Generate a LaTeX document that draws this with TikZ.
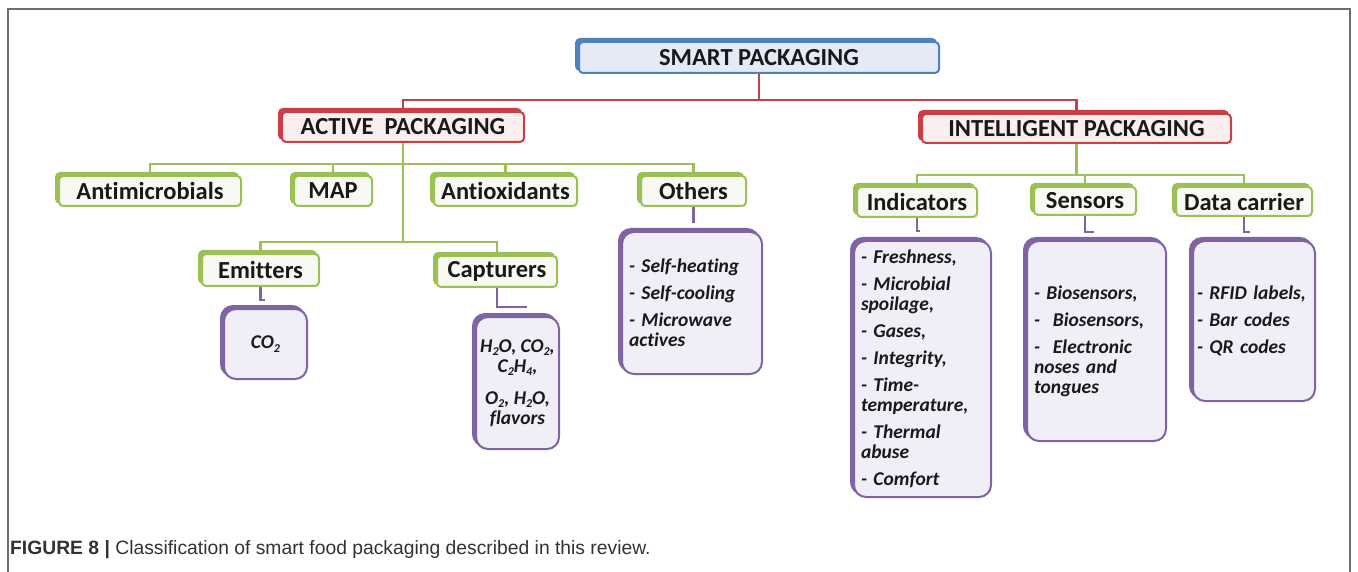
\documentclass[tikz,border=0pt]{standalone}
\usepackage{fontspec}
\setmainfont{Carlito}[Ligatures=NoCommon]
\newfontfamily\captionFont{Liberation Sans}
\usetikzlibrary{shadows}
\definecolor{blueEdge}{RGB}{79,129,189}
\definecolor{blueFill}{RGB}{228,235,246}
\definecolor{redEdge}{RGB}{204,62,70}
\definecolor{redFill}{RGB}{251,238,238}
\definecolor{greenEdge}{RGB}{155,193,84}
\definecolor{greenFill}{RGB}{247,249,242}
\definecolor{purpleEdge}{RGB}{128,100,162}
\definecolor{purpleFill}{RGB}{240,238,246}
\definecolor{frameColor}{RGB}{110,110,110}
\definecolor{captionGray}{RGB}{50,50,50}
\newcommand{\boxFont}{\fontsize{24.5}{28}\selectfont\bfseries}
\newcommand{\listFont}{\fontsize{19.5}{20}\selectfont\bfseries\itshape\hyphenpenalty=10000}
\newcommand{\chemSub}[1]{\raisebox{-0.35ex}{\fontsize{12}{12}\selectfont #1}}
\newcommand{\itemGap}{\\[7pt]}
\tikzstyle{shadowBox} = [rectangle, line width=2pt, inner sep=0pt, text=black!90]
\tikzstyle{smartStyle} = [shadowBox, rounded corners=4pt, draw=blueEdge, fill=blueFill, font=\boxFont,
  copy shadow={shadow xshift=-3pt, shadow yshift=3pt, draw=blueEdge, fill=blueEdge, line width=2pt}]
\tikzstyle{typeStyle} = [shadowBox, rounded corners=4pt, draw=redEdge, fill=redFill, font=\boxFont,
  copy shadow={shadow xshift=-3pt, shadow yshift=3pt, draw=redEdge, fill=redEdge, line width=2pt}]
\tikzstyle{groupStyle} = [shadowBox, rounded corners=4pt, draw=greenEdge, fill=greenFill, font=\boxFont,
  copy shadow={shadow xshift=-3pt, shadow yshift=3pt, draw=greenEdge, fill=greenEdge, line width=2pt}]
\tikzstyle{listStyle} = [shadowBox, rounded corners=12pt, draw=purpleEdge, fill=purpleFill, font=\listFont,
  inner xsep=7pt, align=left,
  copy shadow={shadow xshift=-3pt, shadow yshift=3pt, draw=purpleEdge, fill=purpleEdge, line width=2pt}]
\tikzstyle{redLine} = [color=redEdge, line width=2.5pt]
\tikzstyle{greenLine} = [color=greenEdge, line width=2.5pt]
\tikzstyle{purpleLine} = [color=purpleEdge, line width=2.5pt]

\begin{document}
\begin{tikzpicture}[x=1pt, y=-1pt]
  \useasboundingbox (0,0) rectangle (1358,572);
  \draw [frameColor, line width=1.5pt] (8,572) -- (8,9) -- (1350,9) -- (1350,572);

  \node [smartStyle, minimum width=360, minimum height=31] (smartBox) at (759,57.5) {SMART PACKAGING};
  \node [typeStyle, minimum width=242, minimum height=30] (activeBox) at (403,127) {ACTIVE\ \ PACKAGING};
  \node [typeStyle, minimum width=309, minimum height=29] (intelBox) at (1076.5,128.5) {INTELLIGENT\ PACKAGING};

  \node [groupStyle, minimum width=182, minimum height=30] (antimicBox) at (150,191) {Antimicrobials};
  \node [groupStyle, minimum width=78, minimum height=30] (mapBox) at (333,191) {MAP};
  \node [groupStyle, minimum width=143, minimum height=30] (antioxBox) at (505.5,191) {Antioxidants};
  \node [groupStyle, minimum width=105, minimum height=30] (othersBox) at (693.5,191) {Others};
  \node [groupStyle, minimum width=117, minimum height=32] (emitBox) at (260.5,270) {Emitters};
  \node [groupStyle, minimum width=120, minimum height=31] (captBox) at (497,271.5) {Capturers};
  \node [groupStyle, minimum width=120, minimum height=30] (indicBox) at (917,202) {Indicators};
  \node [groupStyle, minimum width=102, minimum height=28] (sensBox) at (1085,201) {Sensors};
  \node [groupStyle, minimum width=136, minimum height=29] (dataBox) at (1244,201.5) {Data carrier};

  \node [listStyle, align=center, minimum width=83, minimum height=70] (co2List) at (265.5,344) {CO\chemSub{2}};
  \node [listStyle, align=center, inner xsep=0pt, minimum width=83, minimum height=132] (captList) at (517.5,383)
    {H\chemSub{2}O, CO\chemSub{2},\\ C\chemSub{2}H\chemSub{4},\\[12pt] O\chemSub{2}, H\chemSub{2}O,\\ flavors};
  \node [listStyle, text width=126, minimum height=142] (othersList) at (692,303)
    {- Self-heating\itemGap - Self-cooling\itemGap - Microwave\\ actives};
  \node [listStyle, text width=123, minimum height=256] (indicList) at (922.5,369)
    {- Freshness,\itemGap - Microbial\\ spoilage,\itemGap - Gases,\itemGap - Integrity,\itemGap - Time-\\ temperature,\itemGap - Thermal\\ abuse\itemGap - Comfort};
  \node [listStyle, text width=125, minimum height=200] (sensList) at (1096.5,341)
    {- Biosensors,\itemGap -\ \ Biosensors,\itemGap -\ \ Electronic\\ noses and\\ tongues\\[8pt]};
  \node [listStyle, inner xsep=4pt, text width=114, minimum height=160] (dataList) at (1254,321)
    {- RFID labels,\itemGap - Bar codes\itemGap - QR codes\\[6pt]};

  \draw [redLine] (smartBox.south) -- ++(0,26) -| (activeBox.north);
  \draw [redLine] (smartBox.south) -- ++(0,26) -| (intelBox.north);

  \foreach \child in {antimicBox, mapBox, antioxBox, othersBox}
    \draw [greenLine] (activeBox.south) -- ++(0,21) -| (\child.north);
  \foreach \child in {emitBox, captBox}
    \draw [greenLine] (activeBox.south) -- ++(0,99) -| (\child.north);
  \foreach \child in {indicBox, sensBox, dataBox}
    \draw [greenLine] (intelBox.south) -- ++(0,31) -| (\child.north);

  \coordinate (emitHook) at (265,300);
  \coordinate (captHook) at (527,307);
  \coordinate (othersHook) at (693.5,223);
  \coordinate (indicHook) at (920,231);
  \coordinate (sensHook) at (1094,232);
  \coordinate (dataHook) at (1250,232);
  \draw [purpleLine] (emitBox.south) |- (emitHook);
  \draw [purpleLine] (captBox.south) |- (captHook);
  \draw [purpleLine] (othersBox.south) -- (othersHook);
  \draw [purpleLine] (indicBox.south) |- (indicHook);
  \draw [purpleLine] (sensBox.south) |- (sensHook);
  \draw [purpleLine] (dataBox.south) |- (dataHook);

  \node [anchor=base west, inner sep=0pt, text=captionGray, font=\captionFont\fontsize{19.3}{22}\selectfont] (captionText) at (10,554)
    {\textbf{FIGURE 8 |} Classification of smart food packaging described in this review.};
\end{tikzpicture}
\end{document}
